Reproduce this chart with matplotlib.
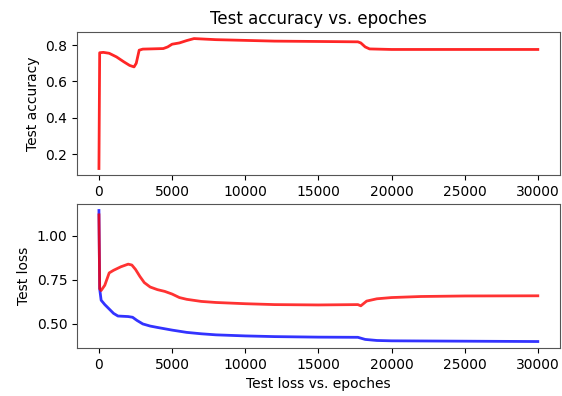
import numpy as np
import matplotlib
matplotlib.use("Agg")
import matplotlib.pyplot as plt

acc_epochs = [0, 50, 300, 700, 1200, 1700, 2100, 2400, 2550, 2750, 3000, 3500, 4400,
              4700, 5000, 5500, 6000, 6500, 7000, 8000, 10000, 12000, 15000, 17700,
              17900, 18200, 18500, 20000, 25000, 30000]
test_acc = [0.12, 0.758, 0.760, 0.755, 0.735, 0.708, 0.688, 0.680, 0.700, 0.772, 0.778,
            0.779, 0.781, 0.790, 0.805, 0.812, 0.825, 0.836, 0.834, 0.830, 0.826, 0.822,
            0.820, 0.818, 0.812, 0.790, 0.779, 0.776, 0.776, 0.776]

test_epochs = [0, 50, 150, 400, 700, 1000, 1500, 2000, 2250, 2500, 2800, 3100, 3500,
               4000, 4500, 5000, 5500, 6000, 7000, 8000, 10000, 12000, 15000, 17700,
               17900, 18300, 19000, 20000, 22000, 25000, 30000]
test_loss = [1.12, 0.70, 0.69, 0.72, 0.79, 0.805, 0.825, 0.84, 0.835, 0.81, 0.77, 0.735,
             0.71, 0.695, 0.685, 0.67, 0.65, 0.64, 0.628, 0.622, 0.615, 0.61, 0.608,
             0.61, 0.603, 0.63, 0.643, 0.65, 0.656, 0.659, 0.66]

train_epochs = [0, 50, 150, 400, 700, 1000, 1300, 2000, 2300, 2600, 3000, 3500, 4000,
                5000, 6000, 7000, 8000, 10000, 12000, 15000, 17700, 18200, 19000, 20000,
                25000, 30000]
train_loss = [1.145, 0.70, 0.635, 0.61, 0.585, 0.56, 0.545, 0.542, 0.538, 0.52, 0.50,
              0.488, 0.48, 0.465, 0.452, 0.444, 0.438, 0.432, 0.428, 0.425, 0.424, 0.412,
              0.406, 0.404, 0.402, 0.40]

fig = plt.figure(figsize=(5.62, 3.96), dpi=100)
ax1 = fig.add_axes([0.137, 0.558, 0.859, 0.361])
ax2 = fig.add_axes([0.137, 0.121, 0.859, 0.364])

ax1.plot(acc_epochs, test_acc, color="red", lw=2, alpha=0.85)
ax1.set_title("Test accuracy vs. epoches")
ax1.set_ylabel("Test accuracy")
ax1.set_yticks([0.2, 0.4, 0.6, 0.8])

ax2.plot(train_epochs, train_loss, color="blue", lw=2, alpha=0.8)
ax2.plot(test_epochs, test_loss, color="red", lw=2, alpha=0.8)
ax2.set_xlabel("Test loss vs. epoches")
ax2.set_ylabel("Test loss")
ax2.set_yticks([0.5, 0.75, 1.0])

for ax in (ax1, ax2):
    ax.set_xticks([0, 5000, 10000, 15000, 20000, 25000, 30000])
    for s in ax.spines.values():
        s.set_color("#555555")

fig.savefig("out.png", dpi=100)
